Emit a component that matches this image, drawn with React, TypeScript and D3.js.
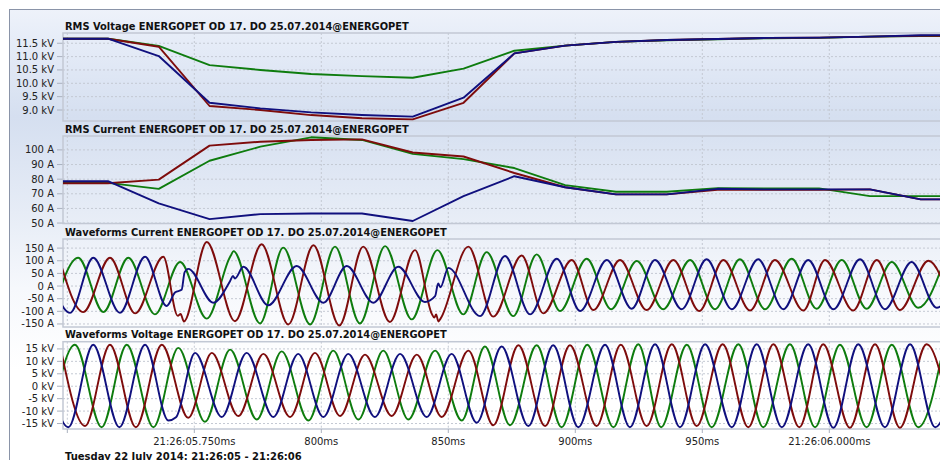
import React from 'react';
import * as d3 from 'd3';

// time axis (ms after 21:26:05)
const TIME_DOMAIN = [698.3, 1050];
const GRID_TIMES = [700, 750, 800, 850, 900, 950, 1000, 1050];
const TICK_TIMES = [750, 800, 850, 900, 950, 1000];
const TICK_LABELS = ['21:26:05.750ms', '800ms', '850ms', '900ms', '950ms', '21:26:06.000ms'];

// RMS values, one per cycle
const RMS_TIMES = [698, 716, 736, 756, 776, 796, 816, 836, 856, 876, 896, 916, 936, 956, 976, 996, 1016, 1036, 1050];
const RMS_V_BLUE = [11.67, 11.67, 11.02, 9.27, 9.06, 8.91, 8.81, 8.75, 9.46, 11.12, 11.41, 11.55, 11.62, 11.66, 11.7, 11.71, 11.75, 11.8, 11.81];
const RMS_V_RED = [11.67, 11.67, 11.37, 9.15, 9.0, 8.81, 8.69, 8.65, 9.27, 11.12, 11.41, 11.55, 11.62, 11.66, 11.7, 11.71, 11.75, 11.78, 11.78];
const RMS_V_GREEN = [11.67, 11.67, 11.4, 10.68, 10.5, 10.35, 10.27, 10.21, 10.55, 11.22, 11.41, 11.55, 11.61, 11.65, 11.69, 11.7, 11.75, 11.77, 11.77];
const RMS_I_BLUE = [78.6, 78.6, 63.5, 52.7, 56.1, 56.5, 56.5, 51.4, 68.4, 82, 74.5, 69.6, 69.6, 73.4, 73, 73, 73, 66.2, 66.2];
const RMS_I_RED = [77.2, 77.2, 79.7, 102.9, 105.6, 106.8, 107.2, 98.2, 95.5, 84.2, 74.5, 69.6, 69.6, 72.7, 72.7, 72.7, 73, 66.2, 66.2];
const RMS_I_GREEN = [77.9, 77.5, 73.4, 92.6, 102.2, 108.6, 106.8, 97.3, 93.7, 87.6, 75.9, 71.4, 71.4, 73.9, 73.7, 73.7, 68.4, 68.4, 68.4];

// waveform turning points [ms, value]
const WAVE_I_RED: [number, number][] = [
  [696.7, 112], [706.3, -103], [716.8, 112], [726.7, -108], [737.8, 116], [743.5, -118], [744.6, -110], [745.9, -140],
  [754.9, 174], [766.0, -139], [776.5, 165], [787.0, -152], [796.9, 161], [807.1, -156], [816.5, 156], [827.0, -142],
  [836.9, 142], [843.5, -110], [844.5, -125], [845.2, -112], [846.1, -140], [847.0, -128], [857.9, 156], [867.7, -121],
  [878.9, 121], [887.4, -108], [898.6, 103], [907.1, -95], [917.6, 103], [928.1, -95], [938.6, 103], [948.8, -99],
  [958.3, 103], [968.8, -97], [978.6, 103], [989.8, -97], [998.3, 103], [1009.4, -97], [1018.7, 103], [1027.8, -95],
  [1039.0, 100], [1048.6, -95],
];
const WAVE_I_GREEN: [number, number][] = [
  [694.4, -100], [704.3, 112], [714.2, -103], [724.0, 112], [734.5, -112], [744.4, 95], [754.9, -129], [763.8, 110],
  [764.6, 125], [765.4, 138], [775.9, -148], [785.0, 152], [795.6, -152], [805.4, 156], [815.2, -148], [825.1, 158],
  [835.6, -132], [845.7, 142], [855.9, -112], [865.1, 134], [875.6, -119], [884.8, 125], [894.0, -99], [904.5, 108],
  [914.1, -92], [924.2, 99], [934.6, -92], [945.2, 103], [955.0, -92], [964.8, 106], [974.7, -92], [985.2, 108],
  [995.0, -90], [1004.9, 103], [1014.7, -90], [1024.6, 95], [1035.0, -86], [1045.1, 95],
];
const WAVE_I_BLUE: [number, number][] = [
  [691.2, 110], [701.1, -106], [710.2, 112], [720.7, -106], [730.6, 116], [739.1, -79], [742.5, -25], [745.0, -15],
  [746.2, 55], [747.6, 68], [757.5, -66], [764.1, 20], [765.2, 40], [766.0, 30], [769.3, 76], [779.1, -76],
  [790.3, 79], [800.8, -66], [810.0, 79], [820.5, -66], [830.3, 76], [840.8, -63], [844.8, -40], [846.0, 10],
  [846.9, -5], [850.0, 72], [862.5, -119], [872.3, 119], [882.2, -112], [892.7, 108], [901.9, -99], [912.4, 103],
  [922.2, -90], [931.4, 103], [941.9, -92], [951.7, 106], [961.6, -92], [972.0, 106], [981.9, -92], [991.7, 103],
  [1001.6, -92], [1012.1, 106], [1021.9, -92], [1032.4, 95], [1042.3, -86], [1052.2, 95],
];
const WAVE_V_RED: [number, number][] = [
  [697.1, 16.5], [707.0, -16], [716.8, 16.7], [727.0, -16.5], [737.2, 16.7], [747.6, -12.7], [756.9, 13.4], [767.3, -12],
  [777.2, 13], [787.7, -12.4], [797.5, 13.4], [807.4, -12], [817.2, 12.7], [827.7, -12], [837.6, 12.7], [847.4, -12.4],
  [857.9, 14.3], [867.7, -15.7], [877.6, 16.5], [888.1, -16], [897.9, 16.5], [908.4, -16], [917.9, 16.7], [928.1, -16],
  [938.0, 16.9], [947.8, -16], [958.0, 16.9], [968.1, -16.5], [978.0, 16.9], [988.2, -16.5], [997.6, 16.9], [1008.1, -16.7],
  [1018.0, 16.9], [1027.8, -16.7], [1038.3, 16.9], [1048.4, -16.7],
];
const WAVE_V_GREEN: [number, number][] = [
  [693.2, -16.5], [703.0, 16.7], [713.5, -16.5], [723.4, 16.7], [733.9, -16.5], [743.7, 15.4], [754.2, -14.3], [764.1, 14.7],
  [774.6, -13.4], [784.4, 14], [794.9, -13.8], [804.7, 14.3], [814.6, -13.4], [824.4, 14.3], [834.3, -13.4], [844.8, 14.3],
  [855.3, -13.8], [864.4, 16], [874.3, -15.7], [884.8, 16.5], [894.6, -16.5], [904.7, 16.7], [915.0, -16.5], [924.8, 16.9],
  [933.8, -16.5], [943.9, 16.7], [953.7, -16.5], [964.2, 16.9], [974.0, -16.5], [984.5, 16.9], [994.4, -16.5], [1004.2, 16.7],
  [1014.7, -16.5], [1024.6, 16.7], [1035.0, -16.5], [1045.2, 16.7],
];
const WAVE_V_BLUE: [number, number][] = [
  [690.4, 16.5], [700.4, -16.5], [710.2, 16.7], [720.5, -16.5], [730.6, 16.7], [739.8, -13.8], [742.8, -12.5], [750.3, 13.4],
  [760.8, -12.4], [770.6, 13.4], [781.1, -12.4], [790.9, 13], [800.8, -12.4], [810.6, 13], [821.1, -12.4], [831.0, 13],
  [841.5, -12.4], [851.3, 13], [861.2, -14.7], [871.0, 16], [881.5, -16], [891.3, 16.5], [901.2, -16.5], [911.7, 16.7],
  [921.5, -16.5], [931.4, 16.9], [941.2, -16.5], [951.1, 16.9], [961.6, -16.5], [971.4, 16.9], [981.3, -16.5], [991.7, 16.9],
  [1001.6, -16.7], [1011.4, 16.9], [1021.9, -16.5], [1031.8, 16.9], [1041.7, -16.5], [1051.7, 16.9],
];

const V_TICKS = [9.0, 9.5, 10.0, 10.5, 11.0, 11.5];
const I_TICKS = [50, 60, 70, 80, 90, 100];
const WI_TICKS = [-150, -100, -50, 0, 50, 100, 150];
const WV_TICKS = [-15, -10, -5, 0, 5, 10, 15];

const TITLES = [
  'RMS Voltage ENERGOPET OD 17. DO 25.07.2014@ENERGOPET',
  'RMS Current ENERGOPET OD 17. DO 25.07.2014@ENERGOPET',
  'Waveforms Current ENERGOPET OD 17. DO 25.07.2014@ENERGOPET',
  'Waveforms Voltage ENERGOPET OD 17. DO 25.07.2014@ENERGOPET',
];
const FOOTER = 'Tuesday 22 July 2014: 21:26:05 - 21:26:06';

const BLUE = '#10107e';
const RED = '#7e0c0c';
const GREEN = '#0e7c0e';
const FONT = '"DejaVu Sans", Verdana, sans-serif';

const zipRms = (vals: number[]) => vals.map((v, i) => [RMS_TIMES[i], v] as [number, number]);

const panels = [
  {
    id: 'p1', title: TITLES[0], top: 33, bottom: 121, domain: [8.588, 11.884], ticks: V_TICKS,
    fmt: (v: number) => `${v.toFixed(1)} kV`, curve: d3.curveLinear,
    series: [
      { data: zipRms(RMS_V_GREEN), color: GREEN },
      { data: zipRms(RMS_V_RED), color: RED },
      { data: zipRms(RMS_V_BLUE), color: BLUE },
    ],
  },
  {
    id: 'p2', title: TITLES[1], top: 136, bottom: 223.5, domain: [49.7, 109.5], ticks: I_TICKS,
    fmt: (v: number) => `${v} A`, curve: d3.curveLinear,
    series: [
      { data: zipRms(RMS_I_GREEN), color: GREEN },
      { data: zipRms(RMS_I_RED), color: RED },
      { data: zipRms(RMS_I_BLUE), color: BLUE },
    ],
  },
  {
    id: 'p3', title: TITLES[2], top: 239, bottom: 327, domain: [-162, 186], ticks: WI_TICKS,
    fmt: (v: number) => `${v} A`, curve: d3.curveMonotoneX,
    series: [
      { data: WAVE_I_GREEN, color: GREEN },
      { data: WAVE_I_RED, color: RED },
      { data: WAVE_I_BLUE, color: BLUE },
    ],
  },
  {
    id: 'p4', title: TITLES[3], top: 341.7, bottom: 429, domain: [-17.2, 17.9], ticks: WV_TICKS,
    fmt: (v: number) => `${v} kV`, curve: d3.curveMonotoneX,
    series: [
      { data: WAVE_V_GREEN, color: GREEN },
      { data: WAVE_V_RED, color: RED },
      { data: WAVE_V_BLUE, color: BLUE },
    ],
  },
];

export default function App() {
  const width = 940;
  const height = 460;
  const left = 63;
  const x = d3.scaleLinear().domain(TIME_DOMAIN).range([left, 956.3]);

  return (
    <svg width={width} height={height} style={{ position: 'absolute', left: 0, top: 0, fontFamily: FONT }}>
      <defs>
        <linearGradient id="bg" gradientUnits="userSpaceOnUse" x1={0} y1={9} x2={0} y2={460}>
          <stop offset="0" stopColor="#eef2fa" />
          <stop offset="0.06" stopColor="#e7edf8" />
          <stop offset="0.24" stopColor="#d5dff0" />
          <stop offset="0.45" stopColor="#e6ecf6" />
          <stop offset="0.62" stopColor="#f6f8fc" />
          <stop offset="0.8" stopColor="#ffffff" />
          <stop offset="1" stopColor="#ffffff" />
        </linearGradient>
        {panels.map(p => (
          <clipPath key={p.id} id={`clip-${p.id}`}>
            <rect x={left} y={p.top} width={width - left} height={p.bottom - p.top} />
          </clipPath>
        ))}
      </defs>
      <rect x={9.5} y={9.5} width={width + 20} height={height + 20} fill="url(#bg)" stroke="#8a94a8" />

      {panels.map(p => {
        const y = d3.scaleLinear().domain(p.domain).range([p.bottom, p.top]);
        const line = d3.line<[number, number]>()
          .x(d => x(d[0]))
          .y(d => y(d[1]))
          .curve(p.curve);
        return (
          <g key={p.id}>
            <text x={65} y={p.top - 3.5} fontSize={9.9} fontWeight="bold" fill="#111">{p.title}</text>
            {GRID_TIMES.map(t => (
              <line key={t} x1={x(t)} x2={x(t)} y1={p.top} y2={p.bottom} stroke="#c4c9d3" strokeDasharray="2,2" />
            ))}
            {p.ticks.map(t => (
              <g key={t}>
                <line x1={left} x2={width} y1={y(t)} y2={y(t)} stroke="#c4c9d3" strokeDasharray="2,2" />
                <line x1={57} x2={left} y1={y(t)} y2={y(t)} stroke="#aab1be" />
                <text x={54} y={y(t)} dy="0.35em" textAnchor="end" fontSize={10} fill="#222">{p.fmt(t)}</text>
              </g>
            ))}
            <rect x={left} y={p.top} width={width} height={p.bottom - p.top} fill="none" stroke="#c2c8d4" strokeWidth={1.5} />
            <g clipPath={`url(#clip-${p.id})`}>
              {p.series.map((s, i) => (
                <path key={i} d={line(s.data) || ''} fill="none" stroke={s.color} strokeWidth={1.9} strokeLinejoin="round" />
              ))}
            </g>
          </g>
        );
      })}

      {GRID_TIMES.map(t => (
        <line key={t} x1={x(t)} x2={x(t)} y1={429} y2={433} stroke="#aab1be" />
      ))}
      {TICK_TIMES.map((t, i) => (
        <text key={t} x={x(t)} y={445} textAnchor="middle" fontSize={10} fill="#222">{TICK_LABELS[i]}</text>
      ))}
      <text x={65} y={459.5} fontSize={10} fontWeight="bold" fill="#111">{FOOTER}</text>
    </svg>
  );
}
